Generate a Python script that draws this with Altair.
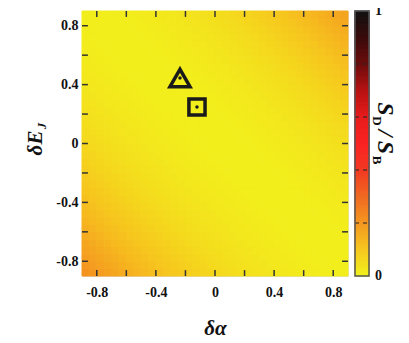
import altair as alt
import pandas as pd

# ---------------- data ----------------
TICKS = [-0.8, -0.6, -0.4, -0.2, 0.0, 0.2, 0.4, 0.6, 0.8]
LABEL_TICKS = [-0.8, -0.4, 0.0, 0.4, 0.8]
AX_MIN, AX_MAX = -0.9, 0.9
GRID_N = 36
GRID_STEP = 0.05

# S_D/S_B read along the diagonal (delta_alpha + delta_EJ), from -1.75 to 1.75 in 0.05 steps
PROFILE = [
    0.210, 0.200, 0.190, 0.180, 0.170, 0.160, 0.150, 0.140, 0.130, 0.122,
    0.114, 0.106, 0.099, 0.092, 0.085, 0.078, 0.072, 0.066, 0.060, 0.055,
    0.050, 0.045, 0.041, 0.037, 0.033, 0.030, 0.027, 0.024, 0.021, 0.019,
    0.017, 0.015, 0.013, 0.012, 0.011,
    0.010,
    0.010, 0.010, 0.010, 0.011, 0.012, 0.013, 0.015, 0.017, 0.019, 0.021,
    0.024, 0.027, 0.030, 0.033, 0.037, 0.041, 0.045, 0.050, 0.055, 0.060,
    0.066, 0.072, 0.078, 0.085, 0.092, 0.099, 0.106, 0.114, 0.122, 0.130,
    0.139, 0.148, 0.157, 0.166, 0.175,
]
assert len(PROFILE) == 2 * GRID_N - 1

MARK_SHAPE = ["triangle-up", "square"]
MARK_ALPHA = [-0.237, -0.122]
MARK_EJ = [0.445, 0.248]
MARK_YOFF = [-4, 0]
MARK_SIZE = [400, 260]

CBAR_DASH = [0.2, 0.4, 0.6, 0.8]
CBAR_LABELS = [0, 1]
CBAR_LABEL_OFF = [1, 5]
CBAR_STEPS = 100

COLOR_STOPS = [0.0, 0.1, 0.2, 0.3, 0.4, 0.5, 0.6, 0.7, 0.8, 0.9, 1.0]
COLOR_RANGE = ["#f2f21c", "#f6c81e", "#f59820", "#f06a20", "#f23a22", "#fa2222",
               "#e81c1c", "#b81212", "#6e0c0c", "#3a0a0a", "#111111"]

SERIF = "Liberation Serif"

# ---------------- tables ----------------
rows = []
for i in range(GRID_N):
    for j in range(GRID_N):
        x0 = AX_MIN + i * GRID_STEP
        y0 = AX_MIN + j * GRID_STEP
        rows.append({"x0": x0, "x1": x0 + GRID_STEP, "y0": y0, "y1": y0 + GRID_STEP,
                     "v": PROFILE[i + j]})
heat = pd.DataFrame(rows)

TL = 0.04  # tick length in data units
trows = []
for t in TICKS:
    trows.append({"x": t, "x2": t, "y": AX_MIN, "y2": AX_MIN + TL})
    trows.append({"x": t, "x2": t, "y": AX_MAX, "y2": AX_MAX - TL})
    trows.append({"x": AX_MIN, "x2": AX_MIN + TL, "y": t, "y2": t})
    trows.append({"x": AX_MAX, "x2": AX_MAX - TL, "y": t, "y2": t})
ticks = pd.DataFrame(trows)

marks = pd.DataFrame({"shape": MARK_SHAPE, "a": MARK_ALPHA, "e": MARK_EJ,
                      "yoff": MARK_YOFF, "size": MARK_SIZE})

cb = pd.DataFrame({"c0": [k / CBAR_STEPS for k in range(CBAR_STEPS)],
                   "c1": [(k + 1) / CBAR_STEPS for k in range(CBAR_STEPS)]})
cb["cv"] = (cb["c0"] + cb["c1"]) / 2
cb["bx0"] = 0
cb["bx1"] = 1

# ---------------- scales ----------------
xs = alt.Scale(domain=[AX_MIN, AX_MAX], nice=False, zero=False)
ys = alt.Scale(domain=[AX_MIN, AX_MAX], nice=False, zero=False)
cs = alt.Scale(type="linear", domain=COLOR_STOPS, range=COLOR_RANGE, interpolate="rgb")
cbs = alt.Scale(domain=[0, 1], nice=False, zero=False)

W, H = 266, 265
CB_X0, CB_X1 = 273, 287
cbx = alt.Scale(domain=[0, 1], range=[CB_X0, CB_X1], nice=False, zero=False)

lab_expr = "datum.value == 0 ? '0' : '' + datum.value"

heat_layer = alt.Chart(heat).mark_rect(strokeWidth=1, binSpacing=0).encode(
    x=alt.X("x0:Q", scale=xs, axis=alt.Axis(
        values=LABEL_TICKS, labelExpr=lab_expr, title="δα", ticks=False, domain=False,
        grid=False, labelFont=SERIF, labelFontWeight="bold", labelFontSize=14,
        labelColor="#111", labelPadding=9, titleFont=SERIF, titleFontSize=21,
        titleFontStyle="italic", titleFontWeight="bold", titleColor="#111",
        titlePadding=18)),
    x2="x1:Q",
    y=alt.Y("y0:Q", scale=ys, axis=alt.Axis(
        values=LABEL_TICKS, labelExpr=lab_expr, title=None, ticks=False, domain=False,
        grid=False, labelFont=SERIF, labelFontWeight="bold", labelFontSize=14,
        labelColor="#111", labelPadding=4)),
    y2="y1:Q",
    color=alt.Color("v:Q", scale=cs, legend=None),
    stroke=alt.Stroke("v:Q", scale=cs, legend=None),
)

tick_layer = alt.Chart(ticks).mark_rule(color="#333", strokeWidth=1.5).encode(
    x=alt.X("x:Q", scale=xs), x2="x2:Q",
    y=alt.Y("y:Q", scale=ys), y2="y2:Q",
)

marker_layer = alt.Chart(marks).mark_point(filled=False, strokeWidth=3.5, color="#1a1a1a",
                                           opacity=1).encode(
    x=alt.X("a:Q", scale=xs), y=alt.Y("e:Q", scale=ys),
    shape=alt.Shape("shape:N", scale=None),
    size=alt.Size("size:Q", scale=None),
    yOffset=alt.YOffset("yoff:Q", scale=None),
)
dot_layer = alt.Chart(marks).mark_circle(size=12, color="#1a1a1a", opacity=1).encode(
    x=alt.X("a:Q", scale=xs), y=alt.Y("e:Q", scale=ys),
)

# y title pieces
ytitle = pd.DataFrame({"t": ["δE"]})
ysub = pd.DataFrame({"t": ["J"]})
yt1 = alt.Chart(ytitle).mark_text(font=SERIF, fontSize=21, fontStyle="italic", fontWeight="bold",
                                  angle=270, align="center", baseline="alphabetic",
                                  color="#111").encode(
    text="t:N", x=alt.value(-40), y=alt.value(132))
yt2 = alt.Chart(ysub).mark_text(font=SERIF, fontSize=13, fontStyle="italic", fontWeight="bold",
                                angle=270, align="center", baseline="alphabetic",
                                color="#111").encode(
    text="t:N", x=alt.value(-36), y=alt.value(115))

main = alt.layer(heat_layer, tick_layer, marker_layer, dot_layer, yt1, yt2)

# ---------------- colour bar ----------------
cb_rects = alt.Chart(cb).mark_rect(strokeWidth=1.2, binSpacing=0).encode(
    x=alt.X("bx0:Q", scale=cbx, axis=None), x2="bx1:Q",
    y=alt.Y("c0:Q", scale=cbs, axis=None), y2="c1:Q",
    color=alt.Color("cv:Q", scale=cs, legend=None),
    stroke=alt.Stroke("cv:Q", scale=cs, legend=None),
)
dash_df = pd.DataFrame({"d": CBAR_DASH, "bx0": 0, "bx1": 1})
cb_dash = alt.Chart(dash_df).mark_rule(
    color="#222", strokeWidth=1, strokeDash=[4, 4]).encode(
    x=alt.X("bx0:Q", scale=cbx, axis=None), x2="bx1:Q",
    y=alt.Y("d:Q", scale=cbs, axis=None),
)
frame_df = pd.DataFrame({"bx0": [0], "bx1": [1], "lo": [0], "hi": [1]})
cb_frame = alt.Chart(frame_df).mark_rect(filled=False, color="#555", strokeWidth=1.5).encode(
    x=alt.X("bx0:Q", scale=cbx, axis=None), x2="bx1:Q",
    y=alt.Y("lo:Q", scale=cbs, axis=None), y2="hi:Q",
)
lab_df = pd.DataFrame({"l": CBAR_LABELS, "off": CBAR_LABEL_OFF, "bx": 1})
cb_lab = alt.Chart(lab_df).mark_text(
    font=SERIF, fontSize=14, fontWeight="bold", align="left", baseline="middle",
    dx=6, color="#111").encode(
    x=alt.X("bx:Q", scale=cbx, axis=None),
    y=alt.Y("l:Q", scale=cbs, axis=None),
    yOffset=alt.YOffset("off:Q", scale=None),
    text="l:Q",
)

ct = pd.DataFrame({
    "t": ["S", "D", "/", "S", "B"],
    "x": [296, 291, 296, 296, 291],
    "y": [98, 110, 122, 136.5, 149],
    "big": [1, 0, 1, 1, 0],
})
big = alt.Chart(ct).transform_filter("datum.big == 1").mark_text(
    font=SERIF, fontSize=24, fontStyle="italic", fontWeight="bold", angle=90,
    align="center", baseline="alphabetic", color="#111").encode(
    text="t:N", x=alt.X("x:Q", scale=None, axis=None), y=alt.Y("y:Q", scale=None, axis=None))
small = alt.Chart(ct).transform_filter("datum.big == 0").mark_text(
    font=SERIF, fontSize=13, fontWeight="bold", angle=90,
    align="center", baseline="alphabetic", color="#111").encode(
    text="t:N", x=alt.X("x:Q", scale=None, axis=None), y=alt.Y("y:Q", scale=None, axis=None))

cbar = alt.layer(cb_rects, cb_dash, cb_frame, cb_lab, big, small)

chart = alt.layer(main, cbar).resolve_scale(x="independent", y="independent").properties(
    width=W, height=H,
    autosize=alt.AutoSizeParams(type="none"),
    padding={"left": 74, "top": 3, "right": 50, "bottom": 66},
).configure_view(stroke="#333", strokeWidth=1.5).configure(background="white")

chart.save("out.html", embed_options={"renderer": "svg", "actions": False})
